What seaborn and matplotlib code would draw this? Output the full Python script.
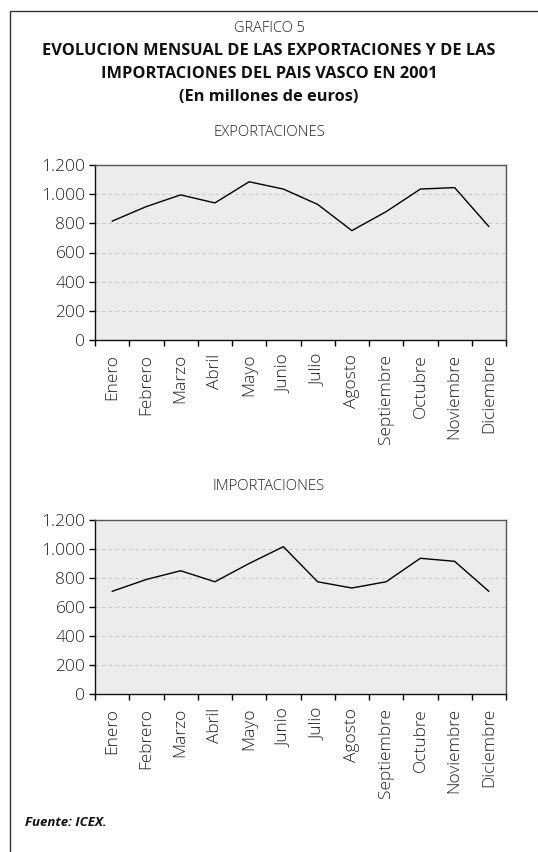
import matplotlib
matplotlib.use("Agg")
import matplotlib.pyplot as plt
import seaborn as sns
import pandas as pd
from matplotlib.patches import Rectangle

months = ["Enero", "Febrero", "Marzo", "Abril", "Mayo", "Junio", "Julio",
          "Agosto", "Septiembre", "Octubre", "Noviembre", "Diciembre"]
exportaciones = [815, 915, 995, 940, 1085, 1035, 930, 750, 880, 1035, 1045, 778]
importaciones = [708, 790, 850, 774, 900, 1016, 774, 731, 774, 936, 915, 708]
yticks = [0, 200, 400, 600, 800, 1000, 1200]
ytick_labels = ["0", "200", "400", "600", "800", "1.000", "1.200"]

sns.set_theme(style="white")
plt.rcParams['font.family'] = ['Open Sans', 'DejaVu Sans']

fig = plt.figure(figsize=(5.38, 8.52), dpi=100)
W, H = 538, 852

def fx(px):
    return px / W

def fy(py):
    return 1 - py / H

# outer frame (left and top visible)
fig.add_artist(Rectangle((fx(10), -0.1), 1.2, fy(11) + 0.1, transform=fig.transFigure,
                         fill=False, edgecolor="#333333", linewidth=1.0))

LIGHT = "light"
fig.text(0.5, fy(29), "GRAFICO 5", ha="center", va="center", fontsize=10.5,
         fontweight=LIGHT, color="#222222")
fig.text(0.5, fy(51), "EVOLUCION MENSUAL DE LAS EXPORTACIONES Y DE LAS", ha="center",
         va="center", fontsize=11.8, fontweight="bold", color="#111111")
fig.text(0.5, fy(74), "IMPORTACIONES DEL PAIS VASCO EN 2001", ha="center",
         va="center", fontsize=11.8, fontweight="bold", color="#111111")
fig.text(0.5, fy(97), "(En millones de euros)", ha="center",
         va="center", fontsize=11.8, fontweight="bold", color="#111111")
fig.text(0.5, fy(133), "EXPORTACIONES", ha="center", va="center", fontsize=10.7,
         fontweight=LIGHT, color="#222222")
fig.text(0.5, fy(487), "IMPORTACIONES", ha="center", va="center", fontsize=10.7,
         fontweight=LIGHT, color="#222222")
fig.text(fx(25), fy(823), "Fuente: ICEX.", ha="left", va="center", fontsize=9.5,
         fontweight="bold", fontstyle="italic", color="#111111")

def make_axes(top_px, bottom_px, values):
    ax = fig.add_axes([fx(95), fy(bottom_px), fx(506) - fx(95), (bottom_px - top_px) / H])
    df = pd.DataFrame({"mes": months, "valor": values, "pos": range(len(months))})
    sns.lineplot(data=df, x="pos", y="valor", ax=ax, color="black", linewidth=1.0)
    ax.set_facecolor("#ececec")
    ax.set_xlim(-0.5, len(months) - 0.5)
    ax.set_ylim(0, 1200)
    ax.set_yticks(yticks)
    ax.set_yticklabels(ytick_labels, fontsize=12.5, color="#222222", fontweight=LIGHT)
    ax.set_xticks([i for i in range(len(months))])
    ax.set_xticklabels(months, rotation=90, fontsize=12.5, color="#222222", fontweight=LIGHT)
    ax.set_xticks([i - 0.5 for i in range(len(months) + 1)], minor=True)
    ax.tick_params(axis="x", which="major", length=4, color=(0, 0, 0, 0), pad=6)
    ax.tick_params(axis="x", which="minor", length=4, width=1, color="black", direction="out", bottom=True)
    ax.tick_params(axis="y", which="major", length=4, width=1, color="black", direction="out", left=True, pad=3)
    for y in yticks[1:-1]:
        ax.axhline(y, color="#c8c8c8", linestyle=(0, (3, 3)), linewidth=0.8, zorder=0)
    ax.set_xlabel("")
    ax.set_ylabel("")
    for side in ["left", "bottom"]:
        ax.spines[side].set_color("#111111")
        ax.spines[side].set_linewidth(1.0)
    for side in ["top", "right"]:
        ax.spines[side].set_color("#555555")
        ax.spines[side].set_linewidth(1.0)
        ax.spines[side].set_visible(True)
    return ax

make_axes(165, 340, exportaciones)
make_axes(520, 694, importaciones)

fig.savefig("out.png", dpi=100)
